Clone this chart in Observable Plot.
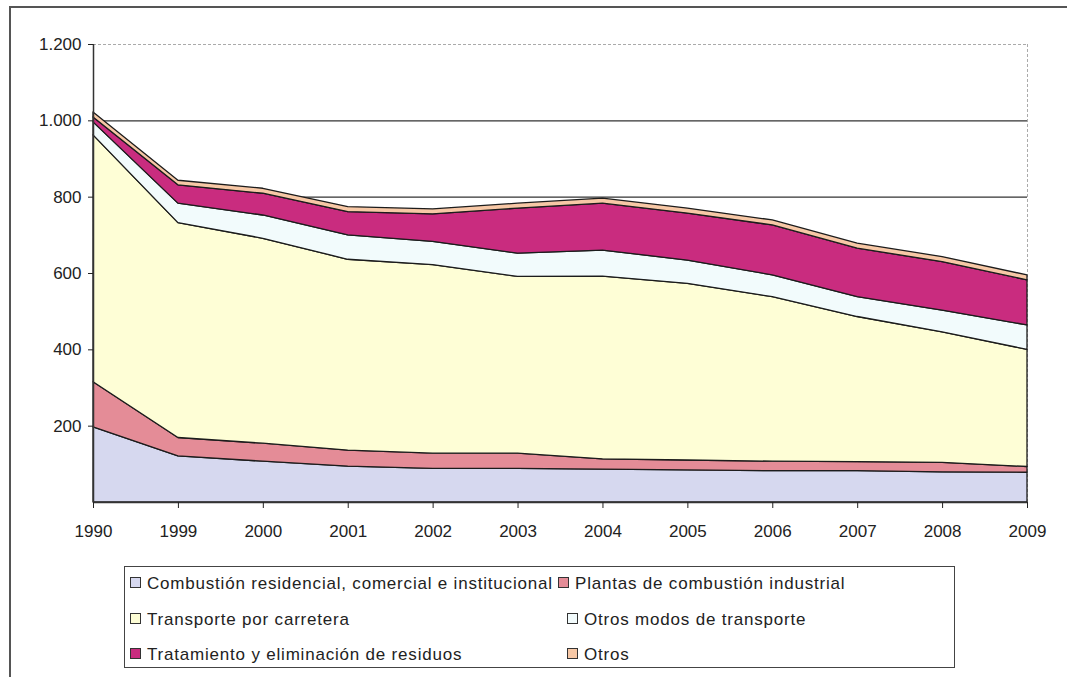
<!DOCTYPE html>
<html>
<head>
<meta charset="utf-8">
<script src="https://cdn.jsdelivr.net/npm/d3@7"></script>
<script src="https://cdn.jsdelivr.net/npm/@observablehq/plot@0.6"></script>
<style>
  html, body { margin: 0; padding: 0; background: #fff; }
  #wrap { position: relative; width: 1067px; height: 677px; overflow: hidden; background: #fff; font-family: "Liberation Sans", Arial, sans-serif; }
  #frame { position: absolute; left: 9px; top: 6px; width: 1080px; height: 700px; border-left: 2px solid #555; border-top: 2px solid #555; box-sizing: border-box; }
  #chart { position: absolute; left: 0; top: 0; }
  #legend { position: absolute; left: 124px; top: 566px; width: 831px; height: 102px; border: 1.5px solid #444; box-sizing: border-box; background: #fff; }
  .item { position: absolute; font-size: 17px; letter-spacing: 0.8px; color: #222; white-space: nowrap; line-height: 18px; }
  .sw { display: inline-block; width: 9px; height: 9px; border: 1px solid #333; margin-right: 6px; vertical-align: 1px; }
</style>
</head>
<body>
<div id="wrap">
  <div id="frame"></div>
  <div id="chart"></div>
  <div id="legend"></div>
</div>
<script>
const years = ["1990","1999","2000","2001","2002","2003","2004","2005","2006","2007","2008","2009"];
const seriesNames = [
  "Combustión residencial, comercial e institucional",
  "Plantas de combustión industrial",
  "Transporte por carretera",
  "Otros modos de transporte",
  "Tratamiento y eliminación de residuos",
  "Otros"
];
const seriesColors = ["#d6d8ef", "#e48c97", "#fefed6", "#f2fbfc", "#c92c7f", "#f7c8a6"];

const residencial  = [197, 121, 107,  94,  88,  88,  86,  84,  82,  82,  79,  78];
const industrial   = [118,  48,  47,  42,  40,  40,  27,  26,  25,  24,  25,  15];
const carretera    = [647, 563, 537, 500, 494, 463, 479, 463, 431, 380, 342, 307];
const otrosModos   = [ 34,  51,  61,  64,  61,  61,  68,  61,  57,  52,  57,  64];
const residuos     = [ 13,  48,  57,  61,  72, 118, 123, 123, 131, 127, 127, 118];
const otros        = [ 13,  12,  13,  13,  13,  13,  13,  13,  13,  13,  13,  13];

const yTicks = [200, 400, 600, 800, 1000, 1200];
const yTickLabels = ["200", "400", "600", "800", "1.000", "1.200"];

const seriesValues = [residencial, industrial, carretera, otrosModos, residuos, otros];
const data = [];
seriesNames.forEach((s, i) => {
  years.forEach((yr, j) => data.push({series: s, year: yr, value: seriesValues[i][j]}));
});

const chart = Plot.plot({
  width: 1067,
  height: 550,
  marginLeft: 93,
  marginRight: 40,
  marginTop: 44,
  marginBottom: 48,
  style: {fontFamily: "'Liberation Sans', Arial, sans-serif", fontSize: "17px", color: "#222", background: "transparent"},
  x: {type: "point", domain: years, padding: 0, round: false},
  y: {domain: [0, 1200]},
  color: {domain: seriesNames, range: seriesColors},
  marks: [
    Plot.ruleY([1200], {stroke: "#aaa", strokeDasharray: "3,2"}),
    Plot.ruleX([years[years.length - 1]], {stroke: "#aaa", strokeDasharray: "3,2"}),
    Plot.ruleY([800, 1000], {stroke: "#333", strokeWidth: 1.3}),
    Plot.areaY(data, {x: "year", y: "value", z: "series", fill: "series", order: seriesNames, curve: "linear",
      stroke: "#1c1c1c", strokeWidth: 1.3, strokeLinejoin: "round"}),
    Plot.ruleY([0], {stroke: "#333", strokeWidth: 1.5}),
    Plot.ruleX([years[0]], {stroke: "#333", strokeWidth: 1.5}),
    Plot.axisY({ticks: yTicks, tickFormat: d => yTickLabels[yTicks.indexOf(d)], tickSize: 5, tickPadding: 7, fontSize: 17, label: null}),
    Plot.axisX({tickSize: 6, tickPadding: 16, fontSize: 17, label: null})
  ]
});
document.getElementById("chart").appendChild(chart);

// Legend
const legendPos = [
  {x: 5,   y: 8},
  {x: 433, y: 8},
  {x: 5,   y: 44},
  {x: 442, y: 44},
  {x: 5,   y: 79},
  {x: 442, y: 79}
];
const legend = document.getElementById("legend");
seriesNames.forEach((s, i) => {
  const d = document.createElement("div");
  d.className = "item";
  d.style.left = legendPos[i].x + "px";
  d.style.top = legendPos[i].y + "px";
  const sw = document.createElement("span");
  sw.className = "sw";
  sw.style.background = seriesColors[i];
  d.appendChild(sw);
  d.appendChild(document.createTextNode(s));
  legend.appendChild(d);
});
</script>
</body>
</html>
